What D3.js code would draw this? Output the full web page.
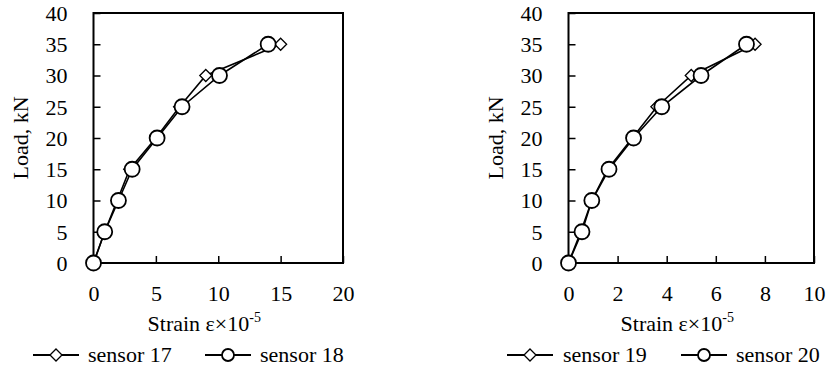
<!DOCTYPE html>
<html>
<head>
<meta charset="utf-8">
<script src="https://cdn.jsdelivr.net/npm/d3@7"></script>
<style>
  body { margin: 0; background: #fff; }
  text { font-family: "Times New Roman", "Liberation Serif", "DejaVu Serif", serif; }
</style>
</head>
<body>
<svg id="chart" width="829" height="374"></svg>
<script>
// load steps, kN (same for every sensor)
const loads = [0, 5, 10, 15, 20, 25, 30, 35];

// strain readings, x10^-5
const sensor17 = [0, 0.9, 1.9, 2.9, 5.0, 6.9, 9.0, 15.0];
const sensor18 = [0, 0.9, 2.0, 3.1, 5.1, 7.1, 10.1, 14.0];
const sensor19 = [0, 0.5, 0.95, 1.6, 2.6, 3.6, 5.0, 7.6];
const sensor20 = [0, 0.55, 0.95, 1.65, 2.65, 3.8, 5.4, 7.25];

const yTicks = [0, 5, 10, 15, 20, 25, 30, 35, 40];
const xTicksLeft = [0, 5, 10, 15, 20];
const xTicksRight = [0, 2, 4, 6, 8, 10];

const svg = d3.select('#chart');
const fontSize = 22;
const serif = '"Times New Roman", "Liberation Serif", "DejaVu Serif", serif';

const panels = [
  {
    x0: 93.5, x1: 343, xMax: 20, xTicks: xTicksLeft,
    series: [
      { name: 'sensor 17', values: sensor17, marker: 'diamond' },
      { name: 'sensor 18', values: sensor18, marker: 'circle' }
    ],
    legend: [{ lx: 33, tx: 88 }, { lx: 205, tx: 260 }]
  },
  {
    x0: 568.5, x1: 814, xMax: 10, xTicks: xTicksRight,
    series: [
      { name: 'sensor 19', values: sensor19, marker: 'diamond' },
      { name: 'sensor 20', values: sensor20, marker: 'circle' }
    ],
    legend: [{ lx: 507, tx: 563 }, { lx: 681, tx: 736 }]
  }
];

const y0 = 263, y1 = 13;

function drawMarker(g, type, cx, cy, size) {
  if (type === 'circle') {
    g.append('circle')
      .attr('cx', cx).attr('cy', cy).attr('r', size)
      .attr('fill', '#fff').attr('stroke', '#000').attr('stroke-width', 1.8);
  } else {
    const s = size * 0.8;
    g.append('path')
      .attr('d', `M${cx},${cy - s}L${cx + s},${cy}L${cx},${cy + s}L${cx - s},${cy}Z`)
      .attr('fill', '#fff').attr('stroke', '#000').attr('stroke-width', 1.3);
  }
}

panels.forEach((p) => {
  const g = svg.append('g');
  const x = d3.scaleLinear().domain([0, p.xMax]).range([p.x0, p.x1]);
  const y = d3.scaleLinear().domain([0, 40]).range([y0, y1]);

  // y axis, inward ticks
  const yAxis = g.append('g')
    .attr('transform', `translate(${p.x0},0)`)
    .call(d3.axisLeft(y).tickValues(yTicks).tickSize(-7).tickPadding(26));
  yAxis.attr('font-family', serif).attr('font-size', fontSize);
  yAxis.select('.domain').remove();
  yAxis.selectAll('line').attr('stroke-width', 1.5);
  yAxis.selectAll('text').attr('dy', '0.34em');

  // x axis, inward ticks
  const xAxis = g.append('g')
    .attr('transform', `translate(0,${y0})`)
    .call(d3.axisBottom(x).tickValues(p.xTicks).tickSize(-7).tickPadding(22));
  xAxis.attr('font-family', serif).attr('font-size', fontSize);
  xAxis.select('.domain').remove();
  xAxis.selectAll('line').attr('stroke-width', 1.5);

  // frame
  g.append('rect')
    .attr('x', p.x0).attr('y', y1)
    .attr('width', p.x1 - p.x0).attr('height', y0 - y1)
    .attr('fill', 'none').attr('stroke', '#000').attr('stroke-width', 2);

  // axis titles
  g.append('text')
    .attr('transform', `translate(${p.x0 - 66},${(y0 + y1) / 2}) rotate(-90)`)
    .attr('text-anchor', 'middle')
    .attr('font-size', fontSize)
    .text('Load, kN');

  const xt = g.append('text')
    .attr('x', (p.x0 + p.x1) / 2 - 14).attr('y', 331)
    .attr('text-anchor', 'middle')
    .attr('font-size', fontSize);
  xt.append('tspan').text('Strain ε×10');
  xt.append('tspan').attr('font-size', 14).attr('dy', -9).text('-5');

  const line = d3.line().x((d) => x(d[0])).y((d) => y(d[1]));

  p.series.forEach((s) => {
    const pts = s.values.map((v, i) => [v, loads[i]]);
    g.append('path')
      .datum(pts)
      .attr('d', line)
      .attr('fill', 'none').attr('stroke', '#000').attr('stroke-width', 1.6);
  });
  p.series.forEach((s) => {
    s.values.forEach((v, i) => drawMarker(g, s.marker, x(v), y(loads[i]), 7.5));
  });

  // legend
  p.series.forEach((s, i) => {
    const L = p.legend[i];
    const ly = 355;
    g.append('line')
      .attr('x1', L.lx).attr('x2', L.lx + 46).attr('y1', ly).attr('y2', ly)
      .attr('stroke', '#000').attr('stroke-width', 1.8);
    drawMarker(g, s.marker, L.lx + 23, ly, s.marker === 'circle' ? 6 : 7.5);
    g.append('text')
      .attr('x', L.tx).attr('y', ly + 7)
      .attr('font-size', fontSize)
      .text(s.name);
  });
});

svg.selectAll('text').attr('font-family', serif);
</script>
</body>
</html>
